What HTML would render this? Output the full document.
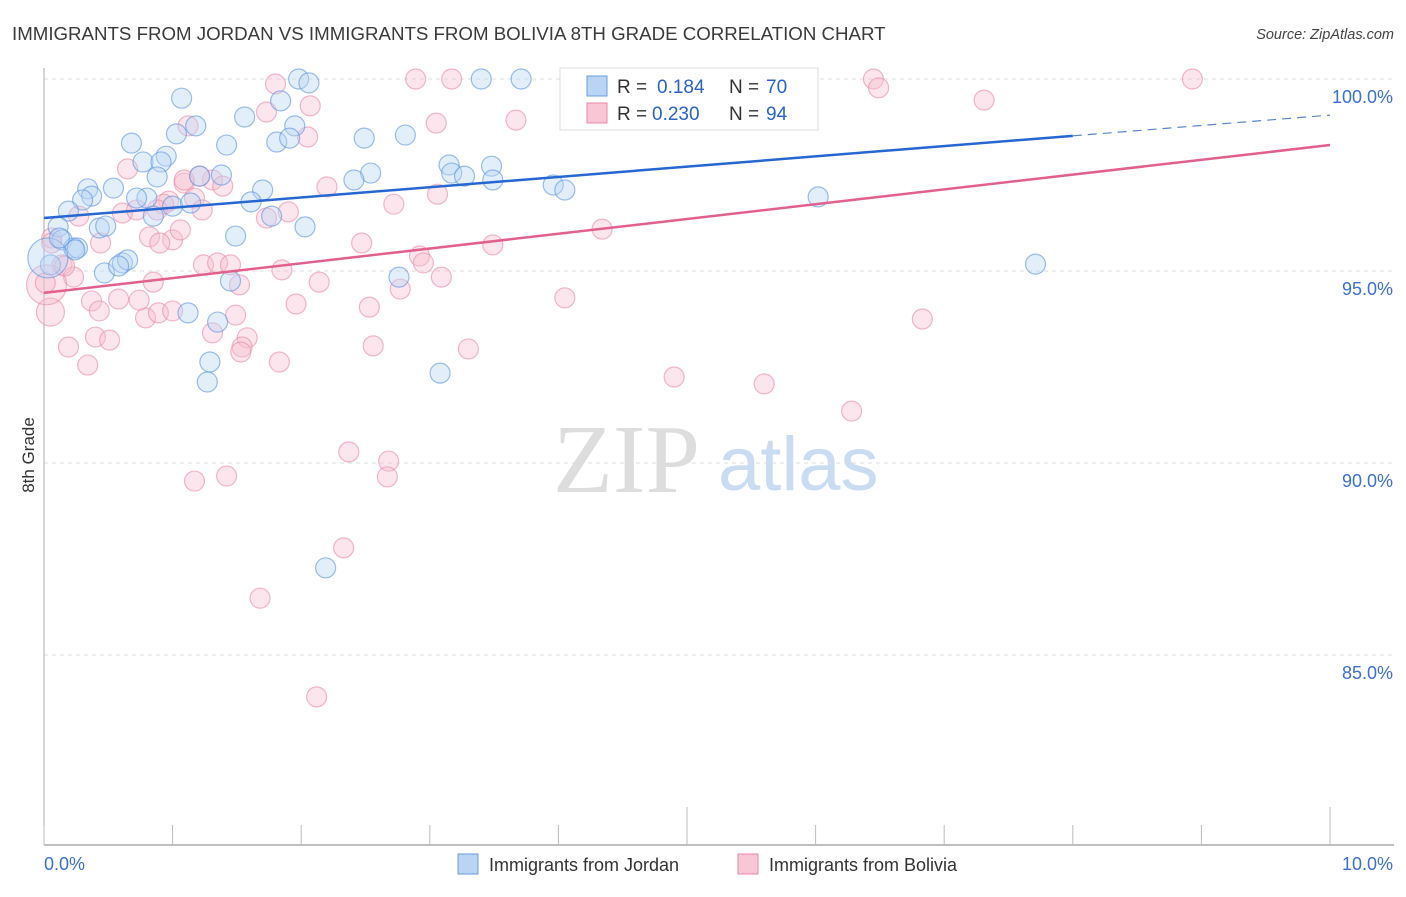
<!DOCTYPE html>
<html><head><meta charset="utf-8"><style>
body{margin:0;background:#fff;width:1406px;height:892px;overflow:hidden;font-family:"Liberation Sans",sans-serif}
</style></head><body>
<svg id="chart" width="1406" height="892" xmlns="http://www.w3.org/2000/svg">
<text x="12" y="40" font-size="18.7" fill="#3a3a3a">IMMIGRANTS FROM JORDAN VS IMMIGRANTS FROM BOLIVIA 8TH GRADE CORRELATION CHART</text>
<text x="1394" y="39" font-size="14.5" fill="#444" font-style="italic" text-anchor="end">Source: ZipAtlas.com</text>
<g>
<text x="553" y="492" font-size="98" fill="#ddd" font-family="Liberation Serif,serif">ZIP</text>
<text x="718" y="490" font-size="76" fill="#c9dcf2">atlas</text>
</g>
<text transform="translate(34,455) rotate(-90)" font-size="17" fill="#333" text-anchor="middle">8th Grade</text>
<g id="grid"></g><g id="axes"></g><g id="pts"></g><g id="trend"></g>
<g>
<rect x="560" y="68" width="258" height="62" fill="#fff" stroke="#ddd"/>
<rect x="587" y="76" width="20" height="20" fill="#b9d4f5" stroke="#6a9ee0"/>
<rect x="587" y="103" width="20" height="20" fill="#f9c6d6" stroke="#e88aa8"/>
<text x="617" y="93" font-size="19" fill="#333">R =</text><text x="657" y="93" font-size="19" fill="#2a62c9">0.184</text><text x="729" y="93" font-size="19" fill="#333">N =</text><text x="766" y="93" font-size="19" fill="#2a62c9">70</text>
<text x="617" y="120" font-size="19" fill="#333">R =</text><text x="652" y="120" font-size="19" fill="#2a62c9">0.230</text><text x="729" y="120" font-size="19" fill="#333">N =</text><text x="766" y="120" font-size="19" fill="#2a62c9">94</text>
</g>
<g>
<g><rect x="458" y="854" width="20" height="20" fill="#b9d4f5" stroke="#6a9ee0"/><text x="489" y="871" font-size="18" fill="#333">Immigrants from Jordan</text></g>
<g><rect x="738" y="854" width="20" height="20" fill="#f9c6d6" stroke="#e88aa8"/><text x="769" y="871" font-size="18" fill="#333">Immigrants from Bolivia</text></g>
</g>
</svg>
<script>
const xTicks=[0,1,2,3,4,5,6,7,8,9,10];
const yTicks=[100,95,90,85];
const yTickLabels=["100.0%","95.0%","90.0%","85.0%"];
const xEndLabels=["0.0%","10.0%"];
const jordanX=[1.98,2.06,3.40,3.71,1.07,1.84,1.18,1.56,1.95,1.03,1.81,1.91,0.68,1.42,2.49,2.81,0.95,0.77,0.91,3.15,3.48,1.21,1.38,0.88,2.54,2.41,3.17,3.27,3.49,3.96,4.05,0.34,0.54,1.70,0.37,0.30,0.80,0.72,1.00,1.14,1.61,0.19,0.85,1.77,2.03,0.43,0.48,1.49,0.11,0.14,0.23,0.26,0.24,0.47,0.61,0.65,0.58,1.45,2.76,7.71,6.02,1.12,1.35,1.29,1.27,3.08,2.19,0.05,0.03,0.12];
const jordanY=[100,99.9,100,100,99.5,99.43,98.78,99.01,98.78,98.57,98.36,98.46,98.33,98.28,98.46,98.54,97.99,97.84,97.84,97.76,97.73,97.47,97.5,97.45,97.55,97.37,97.55,97.47,97.37,97.24,97.11,97.14,97.16,97.11,96.95,96.85,96.9,96.9,96.69,96.77,96.8,96.56,96.43,96.43,96.15,96.12,96.17,95.91,96.15,95.81,95.6,95.6,95.55,94.95,95.21,95.29,95.13,94.74,94.84,95.18,96.93,93.91,93.67,92.63,92.11,92.34,87.27,95.16,95.34,95.86];
const jordanR=jordanX.map((_,i)=>i===68?20:10);
const boliviaX=[1.80,2.89,3.17,4.09,6.45,6.49,8.93,7.31,2.07,1.73,1.12,3.05,3.67,2.05,0.65,1.09,1.31,1.39,2.20,1.17,0.97,0.27,0.61,0.72,1.23,0.93,2.72,3.06,1.73,1.90,4.34,0.44,0.82,1.00,0.90,2.47,3.49,0.14,0.23,0.85,1.24,1.35,1.45,1.85,2.14,2.92,2.95,3.09,2.77,0.37,0.58,1.96,2.53,4.05,0.43,0.79,0.89,1.00,1.49,1.31,1.58,0.40,0.51,0.19,1.54,1.53,2.56,3.30,1.83,0.34,4.90,5.60,6.83,6.28,2.37,2.68,2.67,1.17,1.42,2.33,1.68,2.12,0.05,0.02,0.01,0.16,0.06,0.06,0.74,1.09,1.52,1.06,0.88,1.21];
const boliviaY=[99.87,100,100,100,100,99.77,100,99.45,99.3,99.14,98.78,98.85,98.93,98.49,97.66,97.29,97.37,97.21,97.19,96.9,96.82,96.43,96.51,96.59,96.59,96.74,96.74,97.0,96.38,96.54,96.09,95.73,95.89,95.81,95.73,95.73,95.68,95.16,94.84,94.71,95.16,95.21,95.16,95.03,94.71,95.39,95.21,94.84,94.53,94.22,94.27,94.14,94.06,94.3,93.96,93.78,93.91,93.96,93.85,93.39,93.26,93.28,93.2,93.02,93.02,92.89,93.05,92.97,92.63,92.55,92.24,92.06,93.75,91.35,90.29,90.05,89.64,89.53,89.66,87.79,86.48,83.91,93.93,94.64,94.69,95.13,95.86,95.73,94.24,97.37,94.64,96.07,96.59,97.47];
const boliviaR=boliviaX.map((_,i)=>i===83?20:(i===82?14:10));
const jordanTrend=[96.38,98.52,99.06];
const jordanTrendX=[0,8,10];
const boliviaTrend=[94.43,98.28];
const boliviaTrendX=[0,10];
const NS="http://www.w3.org/2000/svg";
const X=v=>44+v*128.6, Y=v=>79+(100-v)*38.4;
function mk(t,a,p){const e=document.createElementNS(NS,t);for(const k in a)e.setAttribute(k,a[k]);document.getElementById(p).appendChild(e);return e;}
yTicks.forEach((t,i)=>{
 const g=mk('line',{x1:44,x2:1394,y1:Y(t),y2:Y(t),stroke:'#ddd','stroke-dasharray':'4,4'},'grid');
 
 
 const l=mk('text',{x:1393,y:Y(t)+24,'font-size':18,fill:'#3b6fd1','text-anchor':'end'},'axes');
 l.textContent=yTickLabels[i];
 
 
});
const ya=mk('line',{x1:44,x2:44,y1:68,y2:845,stroke:'#aaa'},'axes');


const xa=mk('line',{x1:44,x2:1394,y1:845,y2:845,stroke:'#aaa','stroke-width':1.5},'axes');


xTicks.forEach(t=>{
 const tk=mk('line',{x1:X(t),x2:X(t),y1:(t===5||t===10)?807:825,y2:845,stroke:'#bbb'},'axes');
 
 
});
[[0,'start'],[10,'end']].forEach(([v,a],i)=>{
 const l=mk('text',{x:v===0?44:1393,y:870,'font-size':18,fill:'#3b6fd1','text-anchor':a},'axes');
 l.textContent=xEndLabels[i];
 
 
});
function drawPts(xs,ys,rs,fill,stroke,name){
 xs.forEach((x,i)=>{
  const c=mk('circle',{cx:X(x),cy:Y(ys[i]),r:rs[i],fill:fill,'fill-opacity':0.4,stroke:stroke,'stroke-opacity':0.6,'stroke-width':1.2},'pts');
  
  
 });
}
drawPts(boliviaX,boliviaY,boliviaR,'#f7bfd0','#e88aa8','bolivia-point');
drawPts(jordanX,jordanY,jordanR,'#b9d4f5','#5b93de','jordan-point');
const t1=mk('line',{x1:X(jordanTrendX[0]),y1:Y(jordanTrend[0]),x2:X(jordanTrendX[1]),y2:Y(jordanTrend[1]),stroke:'#2767d2','stroke-width':2.5},'trend');


const t2=mk('line',{x1:X(jordanTrendX[1]),y1:Y(jordanTrend[1]),x2:X(jordanTrendX[2]),y2:Y(jordanTrend[2]),stroke:'#5b86c8','stroke-width':1.2,'stroke-dasharray':'9,6'},'trend');


const t3=mk('line',{x1:X(boliviaTrendX[0]),y1:Y(boliviaTrend[0]),x2:X(boliviaTrendX[1]),y2:Y(boliviaTrend[1]),stroke:'#e2608c','stroke-width':2.5},'trend');


</script>
</body></html>
